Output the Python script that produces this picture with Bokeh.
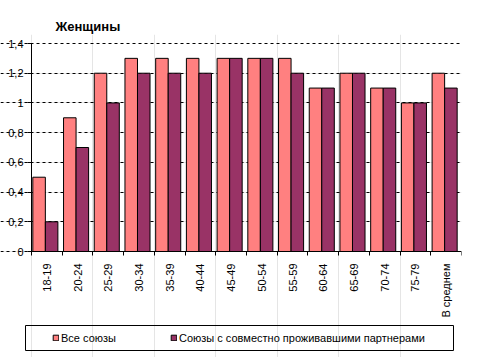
import math
from bokeh.plotting import figure
from bokeh.models import (Range1d, FixedTicker, CustomJSTickFormatter, Legend,
                          LegendItem, BoxAnnotation, ColumnDataSource, LinearAxis, Grid)
from bokeh.embed import file_html
from bokeh.resources import INLINE

categories = ["18-19", "20-24", "25-29", "30-34", "35-39", "40-44", "45-49",
              "50-54", "55-59", "60-64", "65-69", "70-74", "75-79", "В среднем"]
all_unions = [0.5, 0.9, 1.2, 1.3, 1.3, 1.3, 1.3, 1.3, 1.3, 1.1, 1.2, 1.1, 1.0, 1.2]
cohabiting = [0.2, 0.7, 1.0, 1.2, 1.2, 1.2, 1.3, 1.3, 1.2, 1.1, 1.2, 1.1, 1.0, 1.1]
series_names = ["Все союзы", "Союзы с совместно проживавшими партнерами"]
y_ticks = [0, 0.2, 0.4, 0.6, 0.8, 1.0, 1.2, 1.4]

FONT = "Liberation Sans"
n = len(categories)
y_max = 1.4

# geometry (pixels) of the plotting area in the reference
W, H = 477, 357
left_px, right_px, top_px, zero_px = 31, 461, 43, 251
frame_top = 34
xs = (right_px - left_px) / n          # px per category
ys = (zero_px - top_px) / y_max         # px per unit
x_min = -left_px / xs
y_min = -(H - zero_px) / ys
y_top = y_max + (top_px - frame_top) / ys

centers = [i + 0.5 for i in range(n)]
bw = 0.408
src = ColumnDataSource(dict(
    x1=[c - 0.253 for c in centers],
    x2=[c + 0.155 for c in centers],
    a=all_unions, b=cohabiting,
))

p = figure(width=W, height=H, output_backend="svg", toolbar_location=None,
           x_range=Range1d(x_min, n), y_range=Range1d(y_min, y_top),
           x_axis_location=None, y_axis_location=None,
           min_border_left=0, min_border_right=W - right_px, min_border_top=frame_top,
           min_border_bottom=0)
p.outline_line_color = None
p.background_fill_color = "white"
p.border_fill_color = "white"

r1 = p.vbar(x="x1", top="a", width=bw, source=src, fill_color="#FF8080",
            line_color="black", line_width=1)
r2 = p.vbar(x="x2", top="b", width=bw, source=src, fill_color="#993366",
            line_color="black", line_width=1)

# title
p.title.text = "Женщины"
p.title.text_font = FONT
p.title.text_font_size = "13px"
p.title.text_font_style = "bold"
p.title.text_color = "black"
p.title.align = "left"
p.title.offset = 55
p.title.standoff = 2

# x axis
xa = LinearAxis(fixed_location=0, bounds=(0, n))
xa.ticker = FixedTicker(ticks=centers, minor_ticks=list(range(n + 1)))
xa.formatter = CustomJSTickFormatter(args=dict(cats=categories),
                                     code="return cats[Math.floor(tick)];")
xa.major_label_orientation = math.pi / 2
xa.major_tick_line_color = None
xa.minor_tick_out = 4
xa.minor_tick_in = 0
xa.minor_tick_line_color = "black"
xa.axis_line_color = "black"
xa.major_label_text_font = FONT
xa.major_label_text_font_size = "11px"
xa.major_label_text_color = "black"
xa.major_label_standoff = 6
p.add_layout(xa, "below")

# y axis
ya = LinearAxis(fixed_location=0, bounds=(0, y_max))
ya.ticker = FixedTicker(ticks=y_ticks, minor_ticks=[])
ya.formatter = CustomJSTickFormatter(
    code="var s = (Math.round(tick*10)/10).toString(); return s.replace('.', ',');")
ya.major_tick_out = 4
ya.major_tick_in = 0
ya.major_tick_line_color = "black"
ya.minor_tick_line_color = None
ya.axis_line_color = "black"
ya.major_label_text_font = FONT
ya.major_label_text_font_size = "11px"
ya.major_label_text_color = "black"
ya.major_label_standoff = 4
p.add_layout(ya, "left")

grid = Grid(dimension=1, ticker=ya.ticker, bounds=(0, n),
            grid_line_color="black", grid_line_dash="3 3", grid_line_width=1)
p.add_layout(grid)

# legend
legend = Legend(items=[LegendItem(label=series_names[0], renderers=[r1]),
                       LegendItem(label=series_names[1], renderers=[r2])],
                orientation="horizontal", location=(46, H - 350),
                padding=6, spacing=5, glyph_width=7, glyph_height=7,
                label_standoff=2, label_width=104, label_height=13,
                label_text_font=FONT, label_text_font_size="11px",
                label_text_color="black",
                border_line_alpha=0, background_fill_alpha=0, margin=0)
p.add_layout(legend, "center")

box = BoxAnnotation(left=25, right=453, top=325, bottom=350,
                    left_units="canvas", right_units="canvas",
                    top_units="canvas", bottom_units="canvas",
                    fill_alpha=0, line_color="black", line_alpha=1, line_width=1)
p.add_layout(box)

open("out.html", "w").write(file_html(p, INLINE))
